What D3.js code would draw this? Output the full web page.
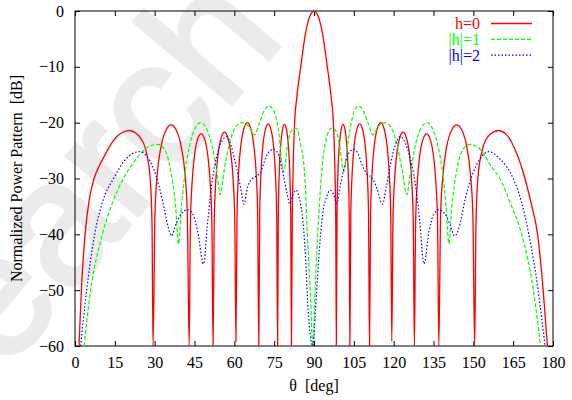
<!DOCTYPE html>
<html>
<head>
<meta charset="utf-8">
<script src="https://cdn.jsdelivr.net/npm/d3@7"></script>
<style>
  body { margin: 0; background: #fff; }
  svg text { font-family: "Liberation Serif", "Times New Roman", Times, serif; }
</style>
</head>
<body>
<div id="chart-container"></div>
<script>
// angles in degrees, values in dB
const redDeg = [1.5,2.4,3.8,5.3,7.2,9.3,11.6,13.5,15.5,17.5,20.4,23.0,24.8,26.7,28.3,29.0,29.4,
  30.1,31.0,32.4,34.3,36.2,38.1,40.0,41.4,42.3,43.0,
  43.45,44.1,45.0,46.2,47.5,48.8,50.0,50.9,51.55,52.0,
  52.43,53.03,53.9,55.1,56.3,57.5,58.7,59.57,60.17,60.6,
  61.03,61.63,62.5,63.7,64.9,66.1,67.3,68.17,68.77,69.2,
  69.56,70.05,70.76,71.76,72.75,73.74,74.74,75.45,75.95,76.3,
  76.56,76.92,77.44,78.17,78.9,79.63,80.36,80.88,81.24,81.5,
  81.8,82.2,82.7,83.5,85.0,86.8,88.4,90,91.6,93.2,95.0,96.5,97.3,97.8,98.2,98.4,
  98.66,99.01,99.52,100.24,100.95,101.66,102.38,102.89,103.25,103.5,
  103.87,104.39,105.13,106.16,107.2,108.24,109.27,110.01,110.53,110.9,
  111.32,111.91,112.75,113.92,115.1,116.28,117.45,118.29,118.88,119.3,
  119.73,120.32,121.17,122.36,123.55,124.74,125.93,126.78,127.38,127.8,
  128.26,128.9,129.82,131.11,132.4,133.69,134.98,135.9,136.54,137.0,
  137.68,138.62,139.97,141.86,143.75,145.64,147.53,148.88,149.83,150.5,
  151.0,151.7,153.3,155.5,157.5,159.4,162.4,164.4,166.4,168.4,169.9,171.9,174.2,176.3,177.9];
const redDb = [-60,-50,-40,-34,-30,-27.6,-25.5,-23.9,-22.6,-21.85,-21.4,-21.9,-22.8,-25,-30,-38,-60,
  -36.4,-29.1,-24.3,-21.3,-20.4,-21.3,-24.3,-29.1,-36.4,-60,
  -38.0,-30.7,-25.9,-22.9,-22.0,-22.9,-25.9,-30.7,-38.0,-60,
  -37.7,-30.4,-25.6,-22.6,-21.7,-22.6,-25.6,-30.4,-37.7,-59.2,
  -36.0,-28.7,-23.9,-20.9,-20.0,-20.9,-23.9,-28.7,-36.0,-60,
  -36.2,-28.9,-24.1,-21.1,-20.2,-21.1,-24.1,-28.9,-36.2,-60,
  -36.3,-29.0,-24.2,-21.2,-20.3,-21.2,-24.2,-29.0,-36.3,-60,
  -38,-27,-20,-15.5,-10,-4,-1,0,-1,-4,-10,-15.5,-20,-27,-38,-60,
  -36.3,-29.0,-24.2,-21.2,-20.3,-21.2,-24.2,-29.0,-36.3,-60,
  -36.2,-28.9,-24.1,-21.1,-20.2,-21.1,-24.1,-28.9,-36.2,-60,
  -36.0,-28.7,-23.9,-20.9,-20.0,-20.9,-23.9,-28.7,-36.0,-59.2,
  -37.7,-30.4,-25.6,-22.6,-21.7,-22.6,-25.6,-30.4,-37.7,-60,
  -38.0,-30.7,-25.9,-22.9,-22.0,-22.9,-25.9,-30.7,-38.0,-60,
  -36.4,-29.1,-24.3,-21.3,-20.4,-21.3,-24.3,-29.1,-36.4,-60,
  -38,-30,-25,-22.5,-21.7,-21.4,-22.1,-23.5,-25.6,-28.3,-30.8,-34.7,-40,-50,-60];

const greenDeg = [3.4,5.9,10.3,14.0,18.2,21.5,24.8,28.0,31.3,34.0,36.0,37.8,39.0,
  40.0,41.3,43.0,45.0,47.2,49.5,51.5,53.5,54.7,56.2,58.3,60.6,63.0,65.3,67.6,
  69.5,71.3,73.0,74.8,76.5,78.6,80.0,81.7,83.3,85.0,86.6,87.5,88.6,89.6,
  90.4,91.4,92.7,94.3,96.6,98.3,99.8,101.2,102.8,104.6,106.6,108.5,110.3,112.2,
  114.3,116.6,118.8,121.0,123.2,124.9,126.3,128.2,130.2,132.6,134.8,136.8,138.6,
  139.8,140.8,142.0,143.8,145.8,148.5,151.5,154.5,157.0,160.0,164.0,168.2,172.6,175.3];
const greenDb = [-60,-50,-40,-34.5,-30,-27.5,-25.5,-24.2,-23.9,-25.0,-28.5,-34.5,-41.7,
  -35.5,-29.5,-24.5,-21.2,-20.0,-21.0,-24.0,-29.0,-32.9,-28.5,-23.5,-20.7,-20.0,-20.6,-22.2,
  -20.0,-17.8,-17.0,-17.8,-21.0,-28.8,-24.0,-21.3,-21.0,-24.0,-30,-40,-50,-60,
  -50,-40,-30,-23.5,-21.0,-21.5,-24.5,-28.8,-23.5,-18.8,-17.0,-17.8,-20.0,-22.2,
  -20.6,-20.0,-20.7,-23.5,-28.5,-32.9,-29.0,-24.0,-21.0,-20.0,-21.2,-24.5,-29.5,
  -35.5,-41.7,-34.5,-28.5,-25.0,-23.9,-24.3,-26.1,-28.0,-30,-34.5,-40,-50,-60];

const blueDeg = [2.1,4.4,7.4,10.5,14.5,19.0,24.2,27.5,30.5,33.0,35.0,36.3,38.0,40.0,
  42.5,44.5,46.2,48.4,50.0,51.8,53.5,55.3,57.2,59.0,61.0,62.5,63.6,65.0,66.8,68.5,
  70.0,71.8,73.5,75.0,76.8,78.5,80.0,80.8,82.0,83.3,84.6,85.8,86.8,87.8,89.6,
  90.5,91.2,92.3,93.5,94.8,96.2,97.5,98.6,100.0,101.8,103.3,105.0,106.6,108.3,
  110.0,111.8,113.7,115.8,117.2,118.8,120.6,122.6,124.5,126.3,128.0,129.8,131.4,
  133.3,135.0,137.0,139.3,141.2,143.0,144.8,147.0,149.5,152.5,155.8,160.0,165.0,
  168.0,170.9,174.4,177.0];
const blueDb = [-60,-50,-40,-34.0,-30,-26.6,-25.2,-26.3,-29.5,-34.0,-38.5,-40.3,-38.2,-36.3,
  -35.6,-36.5,-39.5,-45.3,-37.5,-30.0,-25.8,-23.3,-22.5,-24.5,-28.5,-32.0,-34.6,-31.5,-30.0,-29.5,
  -28.8,-26.3,-25.0,-24.8,-26.0,-29.5,-33.0,-34.5,-33.0,-32.1,-33.8,-37.5,-44,-53.6,-60,
  -54,-48.8,-41,-35.6,-33.2,-32.1,-33.0,-34.5,-31.0,-27.2,-25.3,-24.8,-25.6,-27.8,
  -29.3,-29.8,-31.8,-34.6,-31.5,-27.5,-24.0,-22.5,-23.8,-26.5,-30.5,-37.5,-45.3,
  -39.5,-36.5,-35.6,-36.3,-38.2,-40.3,-38.5,-33.5,-29.5,-26.5,-25.2,-26.5,-30,
  -34,-40,-50,-60];

const seriesNames = ["h=0", "|h|=1", "|h|=2"];
const seriesColors = ["#ff0000", "#00ff00", "#0000ff"];
const seriesDash = [null, "4,2", "1.5,2"];
const xTicks = [0, 15, 30, 45, 60, 75, 90, 105, 120, 135, 150, 165, 180];
const yTicks = [-60, -50, -40, -30, -20, -10, 0];

const serif = "'Liberation Serif', 'Times New Roman', Times, serif";
const fontSize = 16;
const svgWidth = 572;
const svgHeight = 400;
const margin = { top: 11, right: 19, bottom: 54, left: 75 };
const width = svgWidth - margin.left - margin.right;
const height = svgHeight - margin.top - margin.bottom;

const root = d3.select("#chart-container")
  .append("svg")
  .attr("width", svgWidth)
  .attr("height", svgHeight)
  .attr("font-family", serif)
  .attr("font-size", fontSize);

// faint watermark behind everything
root.append("text")
  .text("Research")
  .attr("transform", "translate(-195,612) rotate(-50)")
  .attr("fill", "#ebebeb")
  .attr("stroke", "#ebebeb")
  .attr("stroke-width", 4)
  .style("font-family", "'Liberation Sans', Arial, sans-serif")
  .style("font-size", "175px");

const svg = root.append("g")
  .attr("transform", `translate(${margin.left},${margin.top})`);

const x = d3.scaleLinear().domain([0, 180]).range([0, width]);
const y = d3.scaleLinear().domain([-60, 0]).range([height, 0]);

svg.append("clipPath").attr("id", "plotclip")
  .append("rect").attr("width", width).attr("height", height);

// axes with inward ticks, mirrored on top and right
svg.append("g")
  .attr("transform", `translate(0,${height})`)
  .call(d3.axisBottom(x).tickValues(xTicks).tickSizeInner(-5).tickSizeOuter(0).tickPadding(11))
  .call(g => g.select(".domain").remove());
svg.append("g")
  .call(d3.axisLeft(y).tickValues(yTicks).tickSizeInner(-5).tickSizeOuter(0).tickPadding(11))
  .call(g => g.select(".domain").remove());
svg.append("g")
  .call(d3.axisTop(x).tickValues(xTicks).tickSizeInner(-5).tickSizeOuter(0).tickFormat(""))
  .call(g => g.select(".domain").remove());
svg.append("g")
  .attr("transform", `translate(${width},0)`)
  .call(d3.axisRight(y).tickValues(yTicks).tickSizeInner(-5).tickSizeOuter(0).tickFormat(""))
  .call(g => g.select(".domain").remove());

svg.selectAll(".tick text")
  .attr("fill", "#000")
  .attr("font-family", serif)
  .attr("font-size", fontSize);

svg.append("rect")
  .attr("width", width)
  .attr("height", height)
  .attr("fill", "none")
  .attr("stroke", "#000")
  .attr("stroke-width", 1);

// curves
const series = [
  d3.zip(redDeg, redDb),
  d3.zip(greenDeg, greenDb),
  d3.zip(blueDeg, blueDb)
];
const line = d3.line()
  .x(d => x(d[0]))
  .y(d => y(d[1]))
  .curve(d3.curveMonotoneX);

const plot = svg.append("g").attr("clip-path", "url(#plotclip)");
series.forEach(function(s, i) {
  plot.append("path")
    .datum(s)
    .attr("fill", "none")
    .attr("stroke", seriesColors[i])
    .attr("stroke-width", i == 0 ? 1.3 : 1.2)
    .attr("stroke-dasharray", seriesDash[i])
    .attr("d", line);
});

// legend, top right
const legend = svg.append("g");
seriesNames.forEach(function(name, i) {
  const ly = 12.5 + i * 15.8;
  legend.append("text")
    .text(name)
    .attr("x", 405)
    .attr("y", ly)
    .attr("dy", "0.35em")
    .attr("text-anchor", "end")
    .attr("fill", seriesColors[i]);
  legend.append("line")
    .attr("x1", 416).attr("x2", 457)
    .attr("y1", ly).attr("y2", ly)
    .attr("stroke", seriesColors[i])
    .attr("stroke-width", i == 0 ? 1.3 : 1.2)
    .attr("stroke-dasharray", seriesDash[i]);
});

// axis titles
svg.append("text")
  .text("θ  [deg]")
  .attr("x", width / 2)
  .attr("y", height + 45)
  .attr("text-anchor", "middle")
  .style("white-space", "pre");

svg.append("text")
  .text("Normalized Power Pattern  [dB]")
  .attr("transform", `translate(${-53},${height / 2}) rotate(-90)`)
  .attr("text-anchor", "middle")
  .style("white-space", "pre");
</script>
</body>
</html>
